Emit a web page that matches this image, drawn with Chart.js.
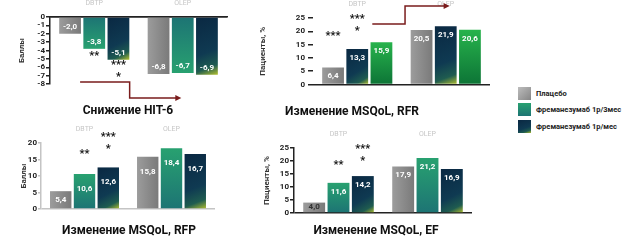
<!DOCTYPE html>
<html>
<head>
<meta charset="utf-8">
<script src="https://cdn.jsdelivr.net/npm/chart.js@4.4.0/dist/chart.umd.min.js"></script>
<style>
  body { margin: 0; background: #fff; }
  #wrap { position: relative; width: 624px; height: 241px; overflow: hidden; font-family: Roboto, 'Open Sans', sans-serif; }
  canvas { position: absolute; }
  .title { position: absolute; font-weight: bold; font-size: 12px; color: #111; white-space: nowrap; transform: translate(-50%, -50%); }
  .legend { position: absolute; left: 518px; top: 85px; }
  .legend div { display: flex; align-items: center; height: 16.5px; font-size: 7.5px; font-weight: bold; color: #222; white-space: nowrap; }
  .legend span { display: inline-block; width: 13px; height: 13px; margin-right: 5px; }
</style>
</head>
<body>
<div id="wrap">
  <canvas id="hit" width="232" height="120" style="left:0;top:0"></canvas>
  <canvas id="rfr" width="262" height="120" style="left:232px;top:0"></canvas>
  <canvas id="rfp" width="232" height="121" style="left:0;top:120px"></canvas>
  <canvas id="ef" width="262" height="121" style="left:232px;top:120px"></canvas>
  <div class="title" style="left:128px;top:110px">Снижение HIT-6</div>
  <div class="title" style="left:352px;top:111px">Изменение MSQoL, RFR</div>
  <div class="title" style="left:129px;top:230px">Изменение MSQoL, RFP</div>
  <div class="title" style="left:376px;top:230px">Изменение MSQoL, EF</div>
  <div class="legend" id="legend"></div>
</div>
<script>
// периоды исследования
const groups = ['DBTP', 'OLEP'];
const legendLabels = ['Плацебо', 'Фреманезумаб 1р/3мес', 'Фреманезумаб 1р/мес'];

// HIT-6, баллы
const hitPlacebo = [-2.0, -6.8];
const hitQuarterly = [-3.8, -6.7];
const hitMonthly = [-5.1, -6.9];

// MSQoL RFR, % пациентов
const rfrPlacebo = [6.4, 20.5];
const rfrMonthly = [13.3, 21.9];
const rfrQuarterly = [15.9, 20.6];

// MSQoL RFP, баллы
const rfpPlacebo = [5.4, 15.8];
const rfpQuarterly = [10.6, 18.4];
const rfpMonthly = [12.6, 16.7];

// MSQoL EF, % пациентов
const efPlacebo = [4.0, 17.9];
const efQuarterly = [11.6, 21.2];
const efMonthly = [14.2, 16.9];

const CAT_PCT = 0.82;
const BAR_PCT = 0.9;
const FONT = 'Roboto, "Open Sans", sans-serif';
const fmt = v => v.toFixed(1).replace('.', ',');

function paint(c, kind) {
  const chart = c.chart;
  if (!chart.chartArea || c.type !== 'data') return '#888';
  const xs = chart.scales.x, ys = chart.scales.y;
  const cat = xs.width / chart.data.labels.length;
  const slot = cat * CAT_PCT / 3;
  const cx = xs.getPixelForValue(c.dataIndex) + (c.datasetIndex - 1) * slot;
  const w = slot * BAR_PCT;
  const x0 = cx - w / 2, x1 = cx + w / 2;
  const yEnd = ys.getPixelForValue(c.raw), yBase = ys.getPixelForValue(0);
  const top = Math.min(yEnd, yBase), bot = Math.max(yEnd, yBase);
  const g = chart.ctx;
  let gr;
  if (kind === 'gray') {
    gr = g.createLinearGradient(x0, 0, x1, 0);
    gr.addColorStop(0, '#9c9c9c');
    gr.addColorStop(1, '#7a7a7a');
  } else if (kind === 'teal') {
    gr = g.createLinearGradient(0, yBase, 0, yEnd);
    gr.addColorStop(0, '#1d7474');
    gr.addColorStop(1, '#28a170');
  } else if (kind === 'dark') {
    gr = g.createLinearGradient(x0, top, x1, bot);
    gr.addColorStop(0, '#0a2842');
    gr.addColorStop(0.6, '#0f3a52');
    gr.addColorStop(0.84, '#1f5c50');
    gr.addColorStop(1, '#b4c02e');
  } else {
    gr = g.createLinearGradient(0, top, 0, bot);
    gr.addColorStop(0, '#27b34c');
    gr.addColorStop(1, '#0d7436');
  }
  return gr;
}

const marks = {
  id: 'marks',
  afterDatasetsDraw(chart, args, opts) {
    const ctx = chart.ctx;
    const xs = chart.scales.x, ys = chart.scales.y;
    ctx.save();
    ctx.textAlign = 'center';
    ctx.textBaseline = 'middle';
    ctx.font = 'bold 8px ' + FONT;
    chart.data.datasets.forEach((ds, di) => {
      chart.getDatasetMeta(di).data.forEach((bar, i) => {
        const v = ds.data[i];
        const mid = (bar.y + bar.base) / 2;
        const y = v < 0 ? Math.max(bar.y - 7, mid) : Math.min(bar.y + opts.labelOffset, mid);
        ctx.fillStyle = Math.abs(bar.y - bar.base) < 14 ? '#333' : '#fff';
        ctx.fillText(fmt(v), bar.x, y);
      });
    });
    ctx.fillStyle = '#111';
    ctx.font = 'bold 11px ' + FONT;
    opts.stars.forEach(s => {
      const bar = chart.getDatasetMeta(s.bar).data[0];
      ctx.fillText(s.text, bar.x, ys.getPixelForValue(s.y) + 2);
    });
    if (opts.arrow) {
      const pts = opts.arrow.map(p => [xs.getPixelForValue(p[0]), ys.getPixelForValue(p[1])]);
      ctx.strokeStyle = '#7a1c1c';
      ctx.fillStyle = '#7a1c1c';
      ctx.lineWidth = 1.5;
      ctx.beginPath();
      pts.forEach((p, k) => k ? ctx.lineTo(p[0], p[1]) : ctx.moveTo(p[0], p[1]));
      ctx.stroke();
      const [ex, ey] = pts[pts.length - 1];
      ctx.beginPath();
      ctx.moveTo(ex + 3, ey);
      ctx.lineTo(ex - 3, ey - 3);
      ctx.lineTo(ex - 3, ey + 3);
      ctx.closePath();
      ctx.fill();
    }
    ctx.restore();
  }
};

function makePanel(p) {
  const canvas = document.getElementById(p.id);
  const w = canvas.width, h = canvas.height;
  return new Chart(canvas, {
    type: 'bar',
    data: {
      labels: groups,
      datasets: p.series.map(s => ({
        label: s.label,
        data: s.data,
        backgroundColor: c => paint(c, s.fill),
        borderWidth: 0,
        categoryPercentage: CAT_PCT,
        barPercentage: BAR_PCT
      }))
    },
    options: {
      responsive: false,
      animation: false,
      events: [],
      layout: { padding: { left: p.padLeft, top: 0, right: w - p.area[2], bottom: h - p.area[3] } },
      plugins: {
        legend: { display: false },
        tooltip: { enabled: false },
        marks: { stars: p.stars, arrow: p.arrow, labelOffset: p.labelOffset }
      },
      scales: {
        x: {
          position: 'top',
          grid: { display: false, drawTicks: false },
          border: { display: p.topBorder, color: p.lineColor, width: 1.5 },
          ticks: { color: '#c6c6c6', font: { size: 7, family: FONT }, padding: 10 },
          afterFit: s => { s.height = p.area[1]; }
        },
        y: {
          min: p.min,
          max: p.max,
          ticks: { stepSize: p.step, autoSkip: false, color: '#222', padding: p.tickPad, font: { size: 8, weight: 'bold', family: FONT } },
          grid: {
            color: c => c.tick.value === 0 ? p.lineColor : 'rgba(0,0,0,0)',
            lineWidth: 1.5,
            tickColor: p.lineColor,
            tickLength: p.tickLen
          },
          border: { display: p.yBorder, color: p.lineColor, width: 1.5 },
          title: { display: true, text: p.yTitle, color: '#333', padding: 0, font: { size: 8, weight: 'bold', family: FONT } },
          afterFit: s => { s.width = p.area[0] - p.padLeft; }
        }
      }
    },
    plugins: [marks]
  });
}

makePanel({
  id: 'hit', area: [50, 17, 227, 84], padLeft: 17, min: -8, max: 0, step: 1,
  yTitle: 'Баллы', tickLen: 4, tickPad: 1, topBorder: true, yBorder: true, lineColor: '#222',
  labelOffset: 9,
  series: [
    { label: legendLabels[0], data: hitPlacebo, fill: 'gray' },
    { label: legendLabels[1], data: hitQuarterly, fill: 'teal' },
    { label: legendLabels[2], data: hitMonthly, fill: 'dark' }
  ],
  stars: [{ bar: 1, text: '**', y: -4.5 }, { bar: 2, text: '***', y: -5.5 }, { bar: 2, text: '*', y: -7.0 }],
  arrow: [[-0.16, -7.76], [0.40, -7.76], [0.40, -9.67], [0.95, -9.67]]
});

makePanel({
  id: 'rfr', area: [81, 18, 258, 84.5], padLeft: 26, min: 0, max: 25, step: 5,
  yTitle: 'Пациенты, %', tickLen: 5, tickPad: 3, topBorder: false, yBorder: false, lineColor: '#222',
  labelOffset: 9,
  series: [
    { label: legendLabels[0], data: rfrPlacebo, fill: 'gray' },
    { label: legendLabels[2], data: rfrMonthly, fill: 'dark' },
    { label: legendLabels[1], data: rfrQuarterly, fill: 'green' }
  ],
  stars: [{ bar: 0, text: '***', y: 19.0 }, { bar: 1, text: '***', y: 25.4 }, { bar: 1, text: '*', y: 20.9 }],
  arrow: [[0.17, 22.7], [0.54, 22.7], [0.54, 29.5], [1.01, 29.5]]
});

makePanel({
  id: 'rfp', area: [41, 23, 215, 89], padLeft: 19, min: 0, max: 20, step: 5,
  yTitle: 'Баллы', tickLen: 3, tickPad: 1, topBorder: false, yBorder: true, lineColor: '#c4c4c4',
  labelOffset: 15,
  series: [
    { label: legendLabels[0], data: rfpPlacebo, fill: 'gray' },
    { label: legendLabels[1], data: rfpQuarterly, fill: 'teal' },
    { label: legendLabels[2], data: rfpMonthly, fill: 'dark' }
  ],
  stars: [{ bar: 1, text: '**', y: 17.3 }, { bar: 2, text: '***', y: 22.4 }, { bar: 2, text: '*', y: 18.8 }]
});

makePanel({
  id: 'ef', area: [62, 28, 240, 93], padLeft: 30, min: 0, max: 25, step: 5,
  yTitle: 'Пациенты, %', tickLen: 4, tickPad: 1, topBorder: false, yBorder: true, lineColor: '#222',
  labelOffset: 9,
  series: [
    { label: legendLabels[0], data: efPlacebo, fill: 'gray' },
    { label: legendLabels[1], data: efQuarterly, fill: 'teal' },
    { label: legendLabels[2], data: efMonthly, fill: 'dark' }
  ],
  stars: [{ bar: 1, text: '**', y: 19.2 }, { bar: 2, text: '***', y: 25.4 }, { bar: 2, text: '*', y: 20.8 }]
});

// легенда
const swatches = [
  'linear-gradient(135deg, #bdbdbd, #858585)',
  'linear-gradient(180deg, #28a170, #1d7474)',
  'linear-gradient(160deg, #0a2842 0%, #0f3a52 60%, #1f5c50 82%, #b4c02e 100%)'
];
document.getElementById('legend').innerHTML = legendLabels
  .map((t, i) => '<div><span style="background:' + swatches[i] + '"></span>' + t + '</div>')
  .join('');
</script>
</body>
</html>
